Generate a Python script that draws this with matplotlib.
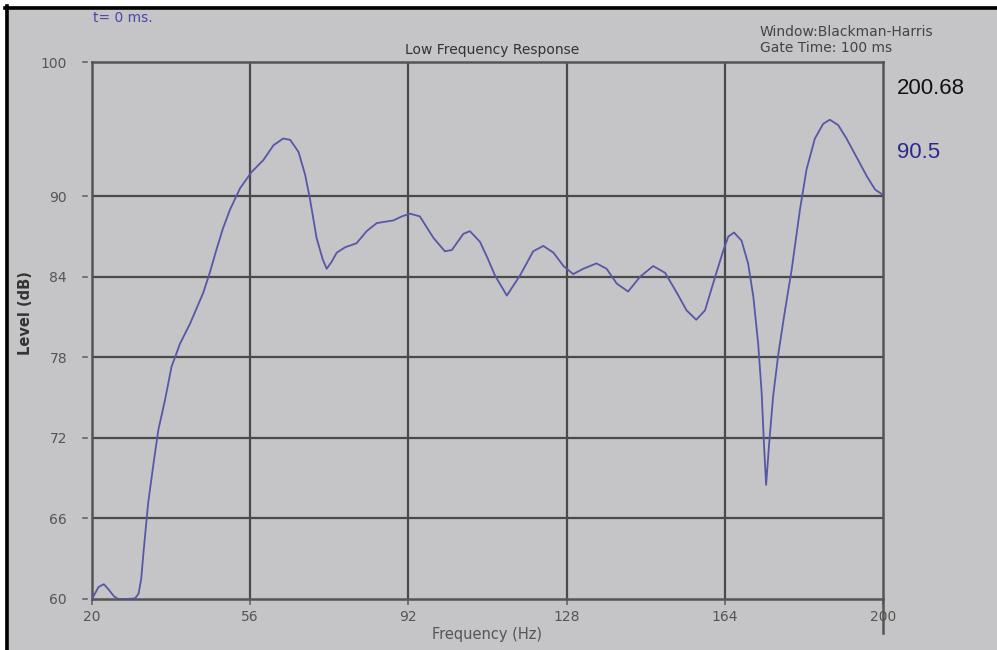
import matplotlib
matplotlib.use("Agg")
import matplotlib.pyplot as plt
import matplotlib.transforms as mtransforms

# frequency response (Hz, dB)
freq = [20.0, 20.5, 21.5, 22.7, 23.8, 25.0, 26.0, 28.0, 29.8, 30.6, 31.2, 31.7, 32.3, 32.8,
        34.0, 35.1, 36.6, 38.1, 40.0, 42.3, 45.3, 46.8, 48.3, 49.8, 51.4, 53.7, 56.3,
        59.0, 61.3, 63.5, 65.1, 67.0, 68.5, 69.6, 71.1, 72.5, 73.4, 74.5, 75.7, 77.6,
        80.2, 82.5, 84.8, 88.6, 90.5, 92.4, 94.6, 97.7, 100.3, 101.9, 104.5, 106.0,
        108.3, 110.0, 111.7, 114.4, 117.4, 120.4, 122.7, 125.0, 127.3, 129.5, 131.8,
        134.8, 137.1, 139.4, 142.0, 144.7, 147.7, 150.4, 153.1, 155.3, 157.5, 159.5,
        161.8, 163.7, 164.8, 166.1, 167.8, 169.3, 170.5, 171.6, 172.4, 172.9, 173.4,
        174.1, 175.0, 176.2, 177.7, 179.2, 181.1, 182.6, 184.5, 186.4, 187.9, 189.8,
        191.7, 194.0, 196.3, 198.2, 200.0]
level = [60.0, 60.3, 60.9, 61.1, 60.7, 60.2, 60.0, 60.0, 60.05, 60.4, 61.5, 63.4, 65.5, 67.2,
         70.1, 72.6, 74.8, 77.3, 79.0, 80.5, 82.8, 84.3, 86.0, 87.6, 89.0, 90.6, 91.8,
         92.7, 93.8, 94.3, 94.2, 93.3, 91.6, 89.8, 86.9, 85.3, 84.6, 85.1, 85.8, 86.2,
         86.5, 87.4, 88.0, 88.2, 88.5, 88.7, 88.5, 86.9, 85.9, 86.0, 87.2, 87.4,
         86.6, 85.4, 84.1, 82.6, 84.1, 85.9, 86.3, 85.8, 84.8, 84.2, 84.6,
         85.0, 84.6, 83.5, 82.9, 84.0, 84.8, 84.3, 82.8, 81.5, 80.8, 81.5,
         84.0, 86.0, 87.0, 87.3, 86.7, 85.0, 82.5, 79.0, 75.3, 71.6, 68.5,
         71.6, 75.1, 78.3, 81.5, 84.5, 89.0, 92.0, 94.3, 95.4, 95.7, 95.3,
         94.3, 92.9, 91.5, 90.5, 90.1]

xticks = [20, 56, 92, 128, 164, 200]
yticks = [60, 66, 72, 78, 84, 90, 100]

bg = "#c5c4c6"
grid_col = "#4a4a4a"
curve_col = "#5757a8"
txt_col = "#555555"

plt.rcParams["font.family"] = ["DejaVu Sans"]

fig = plt.figure(figsize=(9.97, 6.5), dpi=100, facecolor=bg)
# white strips outside the panel, black top/left edge
fig.add_artist(plt.Rectangle((0, 0), 5 / 997, 1, transform=fig.transFigure,
                             facecolor="white", edgecolor="none"))
fig.add_artist(plt.Rectangle((0, 1 - 6 / 650), 1, 6 / 650, transform=fig.transFigure,
                             facecolor="white", edgecolor="none"))
fig.add_artist(plt.Line2D([6.5 / 997, 6.5 / 997], [0, 1 - 6 / 650], transform=fig.transFigure,
                          color="black", lw=2.6))
fig.add_artist(plt.Line2D([5 / 997, 1], [1 - 7.5 / 650, 1 - 7.5 / 650], transform=fig.transFigure,
                          color="black", lw=2.6))

ax = fig.add_axes([92 / 997, 51 / 650, 791 / 997, 537 / 650])
ax.set_facecolor(bg)
ax.plot(freq, level, color=curve_col, lw=1.3, zorder=3, solid_joinstyle="round")

ax.set_xlim(20, 200)
ax.set_ylim(60, 100)
ax.set_xticks(xticks)
ax.set_yticks(yticks)
for v in xticks[1:-1]:
    ax.axvline(v, color=grid_col, lw=1.6, zorder=1)
for v in yticks[1:-1]:
    ax.axhline(v, color=grid_col, lw=1.6, zorder=1)
for s in ax.spines.values():
    s.set_color("#555555")
    s.set_linewidth(1.8)

ax.tick_params(axis="x", colors="#666666", labelcolor=txt_col, labelsize=10,
               length=4, width=1.2, direction="out", pad=4)
ax.tick_params(axis="y", labelcolor=txt_col, labelsize=10, length=0, pad=18)

# detached little dashes left of the y axis
trans = mtransforms.blended_transform_factory(ax.transAxes, ax.transData)
for v in yticks:
    ax.plot([-0.0115, -0.0065], [v, v], color="#666666", lw=1.2, transform=trans, clip_on=False)

# cursor line at the right edge
ax.plot([200, 200], [60, 57.5], color="#555555", lw=1.8, clip_on=False)

ax.set_xlabel("Frequency (Hz)", fontsize=10.5, color=txt_col)
ax.xaxis.set_label_coords(0.4994, -0.052)
ax.set_ylabel("Level (dB)", fontsize=10.5, color="#333333", fontweight="bold")
ax.yaxis.set_label_coords(-0.0746, 0.533)

fig.text(492 / 997, 1 - 50 / 650, "Low Frequency Response", fontsize=10, color="#333333",
         ha="center", va="center")
fig.text(93 / 997, 1 - 18 / 650, "t= 0 ms.", fontsize=10, color="#4848a8", va="center")
fig.text(760 / 997, 1 - 32 / 650, "Window:Blackman-Harris", fontsize=10, color="#444444",
         va="center")
fig.text(760 / 997, 1 - 48 / 650, "Gate Time: 100 ms", fontsize=10, color="#444444",
         va="center")
fig.text(897 / 997, 1 - 88 / 650, "200.68", fontsize=16, color="#111111", va="center",
         family=["Liberation Sans", "DejaVu Sans"])
fig.text(897 / 997, 1 - 153 / 650, "90.5", fontsize=16, color="#2a2a8c", va="center",
         family=["Liberation Sans", "DejaVu Sans"])

fig.savefig("out.png", dpi=100, facecolor=bg)
